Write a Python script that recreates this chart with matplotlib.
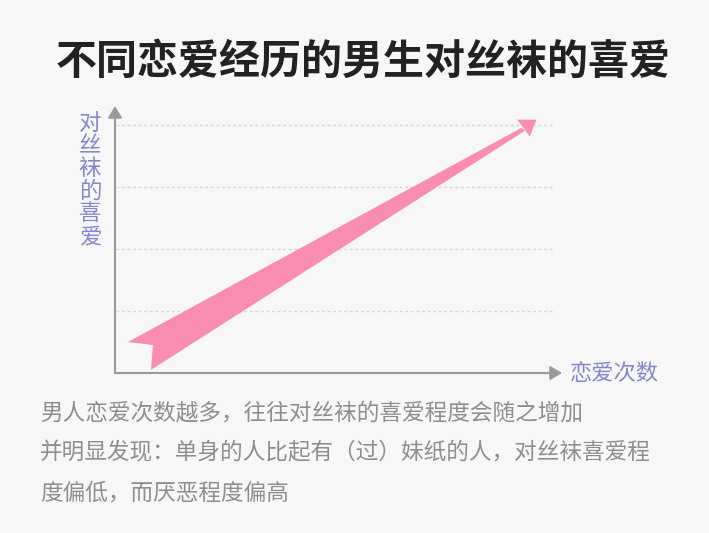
import matplotlib
matplotlib.use("Agg")
import matplotlib.pyplot as plt

plt.rcParams['font.family'] = ['Noto Sans CJK SC', 'DejaVu Sans']

# Text content
title = "不同恋爱经历的男生对丝袜的喜爱"
y_label = "对丝袜的喜爱"
x_label = "恋爱次数"
notes = [
    "男人恋爱次数越多，往往对丝袜的喜爱程度会随之增加",
    "并明显发现：单身的人比起有（过）妹纸的人，对丝袜喜爱程",
    "度偏低，而厌恶程度偏高",
]

# Gridline levels
grid_levels = [1, 2, 3, 4]

# Trend arrow outline (data units), shaft and head
shaft_x = [0.21, 6.55, 6.60, 0.58, 0.61]
shaft_y = [0.50, 3.95, 3.90, 0.05, 0.45]
head_x = [6.48, 6.79, 6.68]
head_y = [4.08, 4.08, 3.81]

bg = "#f7f7f8"
pink = "#f98db0"
axis_gray = "#9a9a9a"
purple = "#8686cc"
note_gray = "#8e8e8e"

fig = plt.figure(figsize=(7.09, 5.33), dpi=100, facecolor=bg)
ax = fig.add_axes([115 / 709, 160 / 533, 447 / 709, 267 / 533])
ax.set_facecolor(bg)
ax.set_xlim(0, 7.2)
ax.set_ylim(0, 4.3)
for s in ax.spines.values():
    s.set_visible(False)
ax.set_xticks([])
ax.set_yticks([])

for g in grid_levels:
    ax.plot([0.02, 7.05], [g, g], color="#d6d6d6", lw=1.0, ls=(0, (2, 2)), zorder=1)

ax.fill(shaft_x, shaft_y, color=pink, lw=0, zorder=3)
ax.fill(head_x, head_y, color=pink, lw=0, zorder=3)

arrow = dict(arrowstyle="-|>,head_length=0.5,head_width=0.3", color=axis_gray,
             lw=1.5, mutation_scale=14, shrinkA=0, shrinkB=0)
ax.annotate("", xy=(1, 0), xytext=(0, 0), xycoords="axes fraction",
            textcoords="axes fraction", arrowprops=arrow, annotation_clip=False)
ax.annotate("", xy=(0, 1), xytext=(0, 0), xycoords="axes fraction",
            textcoords="axes fraction", arrowprops=arrow, annotation_clip=False)

fig.text(363 / 709, 1 - 62 / 533, title, fontsize=29.5, fontweight="heavy",
         color="#222222", ha="center", va="center")

# vertical y label, one character per row
for i, ch in enumerate(y_label):
    fig.text(90 / 709, 1 - (123 + i * 22.7) / 533, ch, fontsize=16.2,
             color=purple, ha="center", va="center")

fig.text(570 / 709, 1 - 373 / 533, x_label, fontsize=16, color=purple,
         ha="left", va="center")

for i, line in enumerate(notes):
    fig.text(40 / 709, 1 - (413 + i * 40) / 533, line, fontsize=16.3,
             color=note_gray, ha="left", va="center")

fig.savefig("out.png", dpi=100, facecolor=bg)
